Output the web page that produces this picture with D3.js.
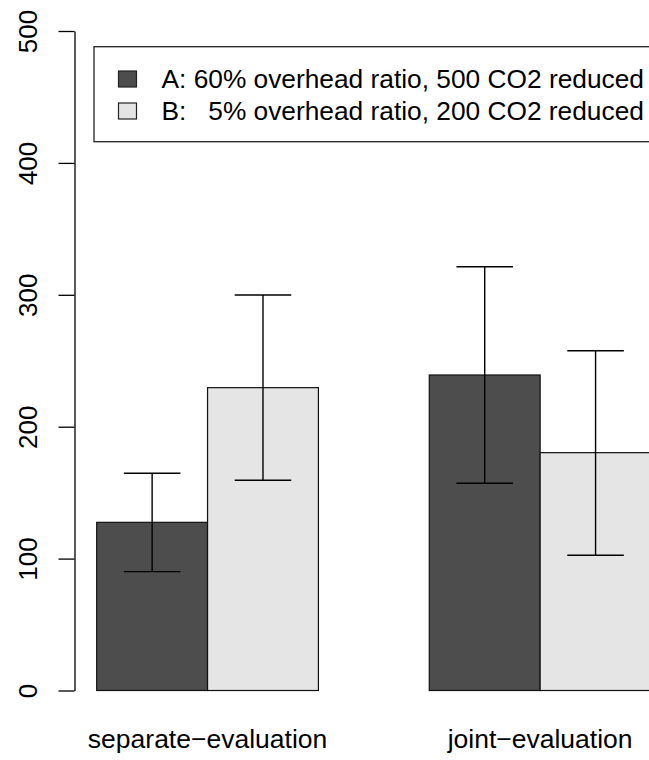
<!DOCTYPE html>
<html>
<head>
<meta charset="utf-8">
<script src="https://cdn.jsdelivr.net/npm/d3@7"></script>
<style>
  html, body { margin: 0; padding: 0; background: #ffffff; }
  svg { display: block; }
  text { font-family: "Liberation Sans", Arial, Helvetica, sans-serif; fill: #000; }
</style>
</head>
<body>
<svg id="chart" width="649" height="760"></svg>
<script>
// Conditions along the x axis
const categories = ["separate\u2212evaluation", "joint\u2212evaluation"];

// Option labels for the legend
const seriesLabels = [
  "A: 60% overhead ratio, 500 CO2 reduced",
  "B:   5% overhead ratio, 200 CO2 reduced"
];

// Mean values per condition
const meansA = [127.5, 239.2];
const meansB = [229.6, 180.3];

// Error bar ends (lower, upper) per condition
const lowerA = [90.1, 157.1];
const upperA = [164.7, 321.3];
const lowerB = [159.4, 102.5];
const upperB = [299.9, 257.6];

// Y axis ticks
const yTicks = [0, 100, 200, 300, 400, 500];

const fills = ["#4d4d4d", "#e5e5e5"];

const svg = d3.select("#chart");
svg.append("rect").attr("width", 649).attr("height", 760).attr("fill", "#fff");

// Bars sit side by side in each group, one bar-width of space between groups
const y = d3.scaleLinear().domain([0, 500]).range([690.5, 31]);
const x = d3.scaleLinear().domain([1, 6]).range([96.7, 651]);
const barW = x(2) - x(1);

const series = [
  { means: meansA, lower: lowerA, upper: upperA },
  { means: meansB, lower: lowerB, upper: upperB }
];

const bars = [];
categories.forEach((c, gi) => {
  series.forEach((s, si) => {
    const left = 1 + gi * 3 + si;
    bars.push({ left, si, value: s.means[gi], lo: s.lower[gi], hi: s.upper[gi] });
  });
});

const g = svg.append("g");

g.selectAll("rect.bar")
  .data(bars)
  .join("rect")
  .attr("class", "bar")
  .attr("x", d => x(d.left))
  .attr("y", d => y(d.value))
  .attr("width", barW)
  .attr("height", d => y(0) - y(d.value))
  .attr("fill", d => fills[d.si])
  .attr("stroke", "#111")
  .attr("stroke-width", 1.2);

// Error bars with caps
const err = g.selectAll("g.err").data(bars).join("g").attr("class", "err")
  .attr("stroke", "#000").attr("stroke-width", 1.4).attr("fill", "none");
const cx = d => x(d.left + 0.5);
const capHalf = barW * 0.255;
err.append("line")
  .attr("x1", cx).attr("x2", cx)
  .attr("y1", d => y(d.lo)).attr("y2", d => y(d.hi));
err.append("line")
  .attr("x1", d => cx(d) - capHalf).attr("x2", d => cx(d) + capHalf)
  .attr("y1", d => y(d.hi)).attr("y2", d => y(d.hi));
err.append("line")
  .attr("x1", d => cx(d) - capHalf).attr("x2", d => cx(d) + capHalf)
  .attr("y1", d => y(d.lo)).attr("y2", d => y(d.lo));

// Y axis with rotated tick labels
const axisX = 74.5;
const yAxis = svg.append("g")
  .attr("transform", `translate(${axisX},0)`)
  .call(d3.axisLeft(y).tickValues(yTicks).tickSize(16).tickSizeOuter(0).tickFormat(d3.format("d")));
yAxis.select(".domain").attr("stroke", "#000").attr("stroke-width", 1.3);
yAxis.selectAll(".tick line").attr("stroke", "#000").attr("stroke-width", 1.3);
yAxis.selectAll(".tick text")
  .attr("x", 0).attr("y", 0).attr("dy", null)
  .attr("text-anchor", "middle")
  .attr("font-size", 26)
  .attr("font-family", "'Liberation Sans', Arial, sans-serif")
  .attr("fill", "#000")
  .attr("transform", `translate(${37 - axisX},0) rotate(-90)`);

// Category labels under each group
svg.selectAll("text.cat")
  .data(categories)
  .join("text")
  .attr("class", "cat")
  .attr("x", (d, i) => x(2 + i * 3))
  .attr("y", 748)
  .attr("text-anchor", "middle")
  .attr("font-size", 26.5)
  .text(d => d);

// Legend
const legend = svg.append("g");
legend.append("rect")
  .attr("x", 94).attr("y", 46.7)
  .attr("width", 600).attr("height", 95)
  .attr("fill", "#fff").attr("stroke", "#222").attr("stroke-width", 1.3);
const rowY = [87.5, 119.5];
seriesLabels.forEach((lab, i) => {
  legend.append("rect")
    .attr("x", 118.5).attr("y", rowY[i] - 16.5)
    .attr("width", 18).attr("height", 16)
    .attr("fill", fills[i]).attr("stroke", "#222").attr("stroke-width", 1.2);
  legend.append("text")
    .attr("x", 161.5).attr("y", rowY[i])
    .attr("font-size", 26.3)
    .attr("xml:space", "preserve")
    .style("white-space", "pre")
    .text(lab);
});
</script>
</body>
</html>
